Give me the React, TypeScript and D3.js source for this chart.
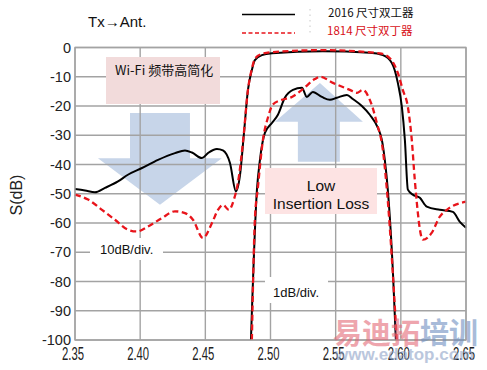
import React from 'react';
import * as d3 from 'd3';

const W = 487;
const H = 370;

const freqTicks = [2.35, 2.4, 2.45, 2.5, 2.55, 2.6, 2.65];
const freqTickLabels = ['2.35', '2.40', '2.45', '2.50', '2.55', '2.60', '2.65'];
const dbTicks = [0, -10, -20, -30, -40, -50, -60, -70, -80, -90, -100];
const dbTickLabels = ['0', '-10', '-20', '-30', '-40', '-50', '-60', '-70', '-80', '-90', '-100'];

const seriesNames = ['2016 尺寸双工器', '1814 尺寸双丁器'];

// 2016 size duplexer, wide (10dB/div) response
const blackWide: [number, number][] = [
  [2.35, -48.4], [2.3577, -48.9], [2.3653, -49.5], [2.373, -48], [2.383, -45.8],
  [2.3906, -43.5], [2.4014, -41.2], [2.4137, -38.4], [2.4267, -36.1], [2.4344, -35.2],
  [2.4397, -35.9], [2.4474, -37.8], [2.452, -36.1], [2.4589, -34.7], [2.4635, -35.2],
  [2.4689, -39.5], [2.4735, -49.2], [2.4765, -44], [2.4795, -30], [2.4827, -14.5],
  [2.4857, -7.7], [2.488, -4.3], [2.4934, -2.6], [2.5011, -2.0], [2.54, -1.3],
  [2.5762, -1.8], [2.5862, -2.6], [2.5931, -5.3], [2.5977, -12.1], [2.6008, -20.3],
  [2.6031, -31.6], [2.6054, -48.6], [2.6092, -50.3], [2.6146, -51.4], [2.6199, -54.4],
  [2.6299, -55.5], [2.6399, -56.2], [2.6453, -59.6], [2.65, -61.6],
];

// 1814 size duplexer, wide (10dB/div) response
const redWide: [number, number][] = [
  [2.35, -50.3], [2.36, -52], [2.3707, -55.5], [2.3807, -58.9], [2.3906, -62.3],
  [2.3975, -62.9], [2.406, -61.2], [2.4167, -58.3], [2.4267, -56], [2.4344, -56.6],
  [2.4405, -58.9], [2.4482, -65.1], [2.4551, -60], [2.4597, -55.5], [2.4635, -53.8],
  [2.4681, -55.5], [2.4719, -52], [2.475, -46.3], [2.4792, -31], [2.4827, -14.5],
  [2.4857, -7.3], [2.488, -3.9], [2.4934, -2.2], [2.5011, -1.6], [2.54, -0.9],
  [2.5839, -2], [2.5916, -3.7], [2.5977, -8.7], [2.6015, -14.5], [2.6054, -20.3],
  [2.6084, -31.6], [2.6107, -45.2], [2.6169, -65.7], [2.6238, -63.3], [2.6299, -57.8],
  [2.6353, -55.5], [2.65, -52.7],
];

// 2016 size duplexer, passband detail (1dB/div)
const blackZoom: [number, number][] = [
  [2.485, -100], [2.4896, -48.6], [2.4919, -38.4], [2.4957, -29.2], [2.5011, -25.8],
  [2.5057, -23], [2.511, -17.2], [2.5172, -14.5], [2.5241, -13.8], [2.5279, -16.9],
  [2.5325, -15.2], [2.5394, -16.9], [2.5456, -17.9], [2.5509, -17.2], [2.5586, -16.2],
  [2.5632, -17.6], [2.5701, -20], [2.5762, -23], [2.5824, -27.5], [2.5854, -31.5],
  [2.5877, -38.4], [2.59, -48.6], [2.5939, -76.5], [2.5962, -100],
];

// 1814 size duplexer, passband detail (1dB/div)
const redZoom: [number, number][] = [
  [2.4857, -100], [2.488, -59], [2.4903, -48], [2.4942, -31.6], [2.498, -24],
  [2.5018, -19.5], [2.5087, -17.9], [2.5164, -16.9], [2.5241, -14.5], [2.534, -10.8],
  [2.538, -10], [2.5479, -12.1], [2.5609, -14.5], [2.5663, -15.5], [2.5709, -14.5],
  [2.5762, -17.9], [2.5816, -25.8], [2.5862, -35], [2.5893, -48.6], [2.5969, -100],
];

const PLOT = { left: 75, right: 466, top: 47.5, bottom: 340 };

export default function App() {
  const x = d3.scaleLinear().domain([2.35, 2.65]).range([PLOT.left, PLOT.right]);
  const y = d3.scaleLinear().domain([-100, 0]).range([PLOT.bottom, PLOT.top]);
  const line = d3
    .line<[number, number]>()
    .x((d) => x(d[0]))
    .y((d) => y(d[1]))
    .curve(d3.curveMonotoneX);

  const arrowColor = '#c7d5e9';
  const gridColor = '#a3a3a3';
  const font = "'Liberation Sans', Arial, sans-serif";
  const cjk = "'Noto Sans CJK SC', 'Liberation Sans', sans-serif";

  // down arrow (in data coords)
  const down: [number, number][] = [
    [2.3922, -22.4], [2.4382, -22.4], [2.4382, -37.9], [2.4627, -37.9],
    [2.4152, -53.8], [2.3676, -37.9], [2.3922, -37.9],
  ];
  const up: [number, number][] = [
    [2.521, -39.1], [2.5532, -39.1], [2.5532, -25.4], [2.5709, -25.4],
    [2.5379, -12.1], [2.5034, -25.4], [2.521, -25.4],
  ];
  const poly = (pts: [number, number][]) => pts.map((p) => `${x(p[0])},${y(p[1])}`).join(' ');

  return (
    <svg
      width={W}
      height={H}
      viewBox={`0 0 ${W} ${H}`}
      style={{ position: 'absolute', left: 0, top: 0, background: '#fff' }}
    >
      <rect x={0} y={0} width={W} height={H} fill="#fff" />

      {/* arrows */}
      <polygon points={poly(down)} fill={arrowColor} />
      <polygon points={poly(up)} fill={arrowColor} />

      {/* grid */}
      {freqTicks.map((f) => (
        <line key={'vx' + f} x1={x(f)} x2={x(f)} y1={PLOT.top} y2={PLOT.bottom} stroke={gridColor} strokeWidth={1.4} />
      ))}
      {dbTicks.map((v) => (
        <line key={'hy' + v} x1={PLOT.left} x2={PLOT.right} y1={y(v)} y2={y(v)} stroke={gridColor} strokeWidth={1.4} />
      ))}

      {/* annotation boxes */}
      <rect x={106} y={57} width={114} height={47} fill="#f2dbdb" />
      <text x={115} y={75} fontFamily={cjk} fontSize={13} fill="#111">
        Wi-Fi 频带高简化
      </text>
      <rect x={265} y={168} width={112} height={46} fill="#fde3e3" />
      <text x={321} y={191} fontFamily={font} fontSize={15.5} textAnchor="middle" fill="#111">
        Low
      </text>
      <text x={321} y={209} fontFamily={font} fontSize={15.5} textAnchor="middle" fill="#111">
        Insertion Loss
      </text>
      <rect x={90} y={238} width={73} height={22} fill="#fff" />
      <text x={100} y={254} fontFamily={font} fontSize={13} fill="#111">
        10dB/div.
      </text>
      <rect x={265} y={277} width={63} height={26} fill="#fff" />
      <text x={273} y={297} fontFamily={font} fontSize={13} fill="#111">
        1dB/div.
      </text>

      {/* curves */}
      <path d={line(blackWide) || ''} fill="none" stroke="#000" strokeWidth={2} />
      <path d={line(blackZoom) || ''} fill="none" stroke="#000" strokeWidth={2} />
      <path d={line(redWide) || ''} fill="none" stroke="#e8141b" strokeWidth={2.3} strokeDasharray="6 3.5" />
      <path d={line(redZoom) || ''} fill="none" stroke="#e8141b" strokeWidth={2.3} strokeDasharray="6 3.5" />

      {/* plot border */}
      <rect x={PLOT.left} y={PLOT.top} width={PLOT.right - PLOT.left} height={PLOT.bottom - PLOT.top} fill="none" stroke={gridColor} strokeWidth={1.4} />

      {/* y tick labels */}
      {dbTicks.map((v, i) => (
        <text key={'yl' + v} x={71} y={y(v)} dy="0.36em" textAnchor="end" fontFamily={font} fontSize={14.5} fill="#222">
          {dbTickLabels[i]}
        </text>
      ))}

      {/* x tick labels */}
      {freqTicks.map((f, i) => (
        <text
          key={'xl' + f}
          x={x(f) - 2}
          y={360}
          textAnchor="middle"
          fontFamily={font}
          fontSize={17.5}
          textLength={22}
          lengthAdjust="spacingAndGlyphs"
          fill="#222"
        >
          {freqTickLabels[i]}
        </text>
      ))}

      {/* y axis title */}
      <text
        transform="translate(22,195) rotate(-90)"
        textAnchor="middle"
        fontFamily={font}
        fontSize={16}
        fill="#222"
      >
        S(dB)
      </text>

      {/* title */}
      <text x={88} y={27} fontFamily={font} fontSize={15} fill="#111">
        Tx→Ant.
      </text>

      {/* legend */}
      <line x1={242} x2={295} y1={14.5} y2={14.5} stroke="#000" strokeWidth={1.6} />
      <line x1={242} x2={295} y1={33} y2={33} stroke="#e8141b" strokeWidth={1.5} strokeDasharray="4 2.5" />
      <line x1={310} x2={310} y1={9} y2={36} stroke="#c8c8c8" strokeWidth={1} strokeDasharray="1.5 4" />
      <text x={328} y={16.5} fontFamily={cjk} fontSize={11.5} fill="#111">
        {seriesNames[0]}
      </text>
      <text x={327} y={35} fontFamily={cjk} fontSize={11.5} fill="#d81018">
        {seriesNames[1]}
      </text>

      {/* watermark */}
      <text x={333} y={344} fontFamily={cjk} fontWeight="bold" fontSize={29} fill="#e36b78" opacity={0.6}>
        易迪拓
      </text>
      <text x={420} y={344} fontFamily={cjk} fontWeight="bold" fontSize={29} fill="#6f8fc0" opacity={0.6}>
        培训
      </text>
      <text x={335} y={360} fontFamily={font} fontWeight="bold" fontSize={17} fill="#8fa3c8" opacity={0.6}>
        www.edatop.com
      </text>
    </svg>
  );
}
